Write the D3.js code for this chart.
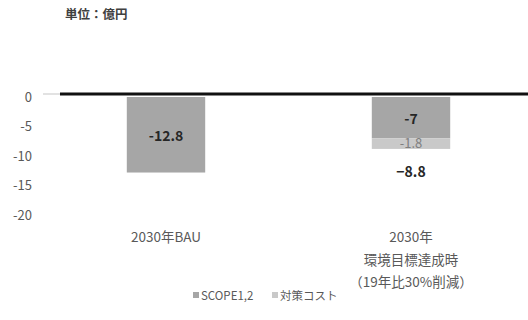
<!DOCTYPE html>
<html><head><meta charset="utf-8">
<script src="https://cdn.jsdelivr.net/npm/d3@7"></script>
<style>body{margin:0;background:#fff}text{font-family:"Noto Sans CJK JP","Noto Sans",sans-serif}</style>
</head><body><svg id="c" width="528" height="320"></svg>
<script>
const categories = ["2030年BAU", "2030年\n環境目標達成時\n（19年比30%削減）"];
const seriesNames = ["SCOPE1,2", "対策コスト"];
const scopeValues = [-12.8, -7];
const costValues = [0, -1.8];
const totalLabels = [null, "−8.8"];
const yTicks = [0, -5, -10, -15, -20];
const colors = ["#a6a6a6", "#c9c9c9"];

const svg = d3.select("#c");
const y = d3.scaleLinear().domain([0, -20]).range([97, 215]);
const x = d3.scaleBand().domain(categories).range([43.5, 533.5]).paddingInner(0.68).paddingOuter(0.34);

svg.append("text").attr("x", 65).attr("y", 19).attr("font-size", 12.5).attr("font-weight", "bold")
  .attr("fill", "#404040").text("単位：億円");

// y tick labels
svg.append("g").selectAll("text").data(yTicks).join("text")
  .attr("x", 32).attr("y", d => y(d)).attr("dy", "0.35em").attr("text-anchor", "end")
  .attr("font-size", 13).attr("fill", "#595959").text(d => d);

// bars
const stacks = categories.map((c, i) => ({c, s: scopeValues[i], k: costValues[i]}));
const g = svg.append("g");
g.selectAll("rect.s").data(stacks).join("rect")
  .attr("x", d => x(d.c)).attr("width", x.bandwidth())
  .attr("y", y(0)).attr("height", d => y(d.s) - y(0)).attr("fill", colors[0]);
g.selectAll("rect.k").data(stacks.filter(d => d.k !== 0)).join("rect")
  .attr("x", d => x(d.c)).attr("width", x.bandwidth())
  .attr("y", d => y(d.s)).attr("height", d => y(d.s + d.k) - y(d.s)).attr("fill", colors[1]);

// zero line
svg.append("line").attr("x1", 43).attr("x2", 60).attr("y1", y(0) - 3).attr("y2", y(0) - 3)
  .attr("stroke", "#d9d9d9").attr("stroke-width", 1.5);
svg.append("line").attr("x1", 60).attr("x2", 528).attr("y1", y(0) - 3).attr("y2", y(0) - 3)
  .attr("stroke", "#111").attr("stroke-width", 3);

// value labels
g.selectAll("text.s").data(stacks).join("text")
  .attr("x", d => x(d.c) + x.bandwidth() / 2).attr("y", d => (y(0) + y(d.s)) / 2 + 1.5)
  .attr("dy", "0.35em").attr("text-anchor", "middle").attr("font-size", 14).attr("font-weight", "bold")
  .attr("fill", "#262626").text(d => d.s);
g.selectAll("text.k").data(stacks.filter(d => d.k !== 0)).join("text")
  .attr("x", d => x(d.c) + x.bandwidth() / 2).attr("y", d => (y(d.s) + y(d.s + d.k)) / 2)
  .attr("dy", "0.35em").attr("text-anchor", "middle").attr("font-size", 13)
  .attr("fill", "#7f7f7f").text(d => d.k);
g.selectAll("text.t").data(stacks.filter((d, i) => totalLabels[i])).join("text")
  .attr("x", d => x(d.c) + x.bandwidth() / 2).attr("y", d => y(d.s + d.k) + 23)
  .attr("dy", "0.35em").attr("text-anchor", "middle").attr("font-size", 14).attr("font-weight", "bold")
  .attr("fill", "#262626").text((d) => totalLabels[categories.indexOf(d.c)]);

// category labels
categories.forEach(c => {
  const lines = c.split("\n");
  const t = svg.append("text").attr("text-anchor", "middle").attr("font-size", 13.5).attr("fill", "#595959");
  lines.forEach((l, i) => t.append("tspan").attr("x", x(c) + x.bandwidth() / 2).attr("y", 242 + i * 22.5).text(l));
});

// legend
const legend = svg.append("g");
const lx = [193, 272];
seriesNames.forEach((n, i) => {
  legend.append("rect").attr("x", lx[i]).attr("y", 292).attr("width", 6).attr("height", 6).attr("fill", colors[i]);
  legend.append("text").attr("x", lx[i] + 8).attr("y", 299.5).attr("font-size", 11.5).attr("fill", "#595959").text(n);
});
</script></body></html>
